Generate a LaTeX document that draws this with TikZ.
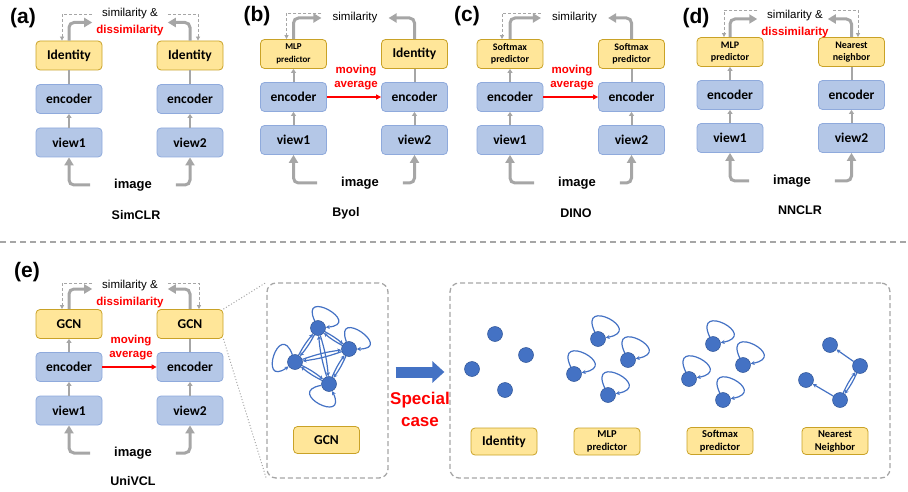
\documentclass[tikz,border=0pt]{standalone}
\usepackage{fontspec}
\setmainfont{Liberation Sans}
\newfontfamily\boxfont{Carlito}
\usetikzlibrary{arrows.meta,positioning}

\definecolor{encfill}{HTML}{B4C7E7}
\definecolor{encline}{HTML}{8FAADC}
\definecolor{prjfill}{HTML}{FFE699}
\definecolor{prjline}{HTML}{C9A227}
\definecolor{flowgray}{HTML}{A6A6A6}
\definecolor{nodeblue}{HTML}{4472C4}
\definecolor{nodeline}{HTML}{2F5597}

\begin{document}
\begin{tikzpicture}[x=1pt,y=1pt]
\tikzstyle{blk}=[draw=encline,fill=encfill,rounded corners=4pt,line width=0.8pt,minimum width=66pt,minimum height=29pt,inner sep=1pt,align=center,font=\boxfont\bfseries\fontsize{13.5}{15}\selectfont]
\tikzstyle{prj}=[blk,draw=prjline,fill=prjfill]
\tikzstyle{prjtiny}=[font=\boxfont\bfseries\fontsize{9}{12.5}\selectfont]
\tikzstyle{prjsmall}=[font=\boxfont\bfseries\fontsize{10}{12}\selectfont]
\tikzstyle{prjcase}=[minimum height=27pt,font=\boxfont\bfseries\fontsize{10.5}{13}\selectfont]
\tikzstyle{lbl}=[font=\bfseries\fontsize{21}{23}\selectfont]
\tikzstyle{img}=[font=\bfseries\fontsize{13}{15}\selectfont,inner xsep=24pt]
\tikzstyle{nm}=[font=\bfseries\fontsize{12.5}{14}\selectfont]
\tikzstyle{sim}=[font=\fontsize{11.5}{17}\selectfont,align=center,inner xsep=4pt]
\tikzstyle{ema}=[font=\bfseries\fontsize{11.5}{13.3}\selectfont,text=red,align=center]
\tikzstyle{flowline}=[draw=flowgray,line width=3pt,rounded corners=5pt,-{Triangle[length=8pt,width=9pt]}]
\tikzstyle{tapline}=[draw=flowgray,line width=2pt,-{Triangle[length=4pt,width=5pt]}]
\tikzstyle{plainline}=[draw=flowgray,line width=2pt]
\tikzstyle{dashline}=[draw=flowgray,line width=0.8pt,dash pattern=on 3pt off 2pt,-{Triangle[length=4pt,width=4pt]}]
\tikzstyle{emaline}=[draw=red,line width=1.4pt,-{Triangle[length=5pt,width=5pt]}]
\tikzstyle{panel}=[draw=flowgray,line width=1.3pt,dash pattern=on 5pt off 3pt,rounded corners=9pt]
\tikzstyle{zoomline}=[draw=flowgray,line width=1pt,dotted]
\tikzstyle{gnode}=[circle,fill=nodeblue,draw=nodeline,line width=0.5pt,minimum size=15pt,inner sep=0pt]
\tikzstyle{gedge}=[draw=nodeblue,line width=1.2pt,-{Stealth[length=4pt,width=4pt]}]

\useasboundingbox (0,0) rectangle (908,491);

% (a) SimCLR
\node[lbl] (aLbl) at (23,473) {(a)};
\node[prj] (aP1) at (69,435.5) {Identity};
\node[blk] (aE1) [below of=aP1,node distance=43.5pt] {encoder};
\node[blk] (aV1) [below of=aE1,node distance=43.5pt] {view1};
\node[prj] (aP2) [right of=aP1,node distance=121pt] {Identity};
\node[blk] (aE2) [right of=aE1,node distance=121pt] {encoder};
\node[blk] (aV2) [right of=aV1,node distance=121pt] {view2};
\node[img] (aImg) at (133,306) {image};
\node[nm] (aName) at (136,276) {SimCLR};
\node[sim] (aSim) at (130,468.5) {similarity \&\\\textcolor{red}{\bfseries dissimilarity}};

\draw[flowline] (aImg.west) -| (aV1.south);
\draw[flowline] (aImg.east) -| (aV2.south);
\draw[tapline] (aV1.north) -- (aE1.south);
\draw[tapline] (aV2.north) -- (aE2.south);
\draw[plainline] (aE1.north) -- (aP1.south);
\draw[plainline] (aE2.north) -- (aP2.south);
\draw[flowline] (aP1.north) |- (aSim.west);
\draw[flowline] (aP2.north) |- (aSim.east);
\draw[dashline] ([yshift=8pt]aSim.west) -| ([xshift=-7pt]aP1.north);
\draw[dashline] ([yshift=8pt]aSim.east) -| ([xshift=8pt]aP2.north);

% (b) Byol
\node[lbl] (bLbl) at (257,475) {(b)};
\node[prj,prjtiny] (bP1) at (293.5,437) {MLP\\predictor};
\node[blk] (bE1) [below of=bP1,node distance=43pt] {encoder};
\node[blk] (bV1) [below of=bE1,node distance=43pt] {view1};
\node[prj] (bP2) [right of=bP1,node distance=121pt] {Identity};
\node[blk] (bE2) [right of=bE1,node distance=121pt] {encoder};
\node[blk] (bV2) [right of=bV1,node distance=121pt] {view2};
\node[img] (bImg) at (360,308) {image};
\node[nm] (bName) at (346,278) {Byol};
\node[sim,inner xsep=11pt] (bSim) at (355,473) {similarity};
\node[ema] (bEma) at (356,413.5) {moving\\average};

\draw[flowline] (bImg.west) -| (bV1.south);
\draw[flowline] (bImg.east) -| (bV2.south);
\draw[tapline] (bV1.north) -- (bE1.south);
\draw[tapline] (bV2.north) -- (bE2.south);
\draw[tapline] (bE1.north) -- (bP1.south);
\draw[plainline] (bE2.north) -- (bP2.south);
\draw[flowline] (bP1.north) |- (bSim.west);
\draw[flowline] (bP2.north) |- (bSim.east);
\draw[dashline] ([yshift=5pt]bSim.west) -| ([xshift=-7pt]bP1.north);
\draw[emaline] (bE1.east) -- (bE2.west);

% (c) DINO
\node[lbl] (cLbl) at (467,475) {(c)};
\node[prj,prjsmall] (cP1) at (510,437) {Softmax\\predictor};
\node[blk] (cE1) [below of=cP1,node distance=43pt] {encoder};
\node[blk] (cV1) [below of=cE1,node distance=43pt] {view1};
\node[prj,prjsmall] (cP2) [right of=cP1,node distance=121.5pt] {Softmax\\predictor};
\node[blk] (cE2) [right of=cE1,node distance=121.5pt] {encoder};
\node[blk] (cV2) [right of=cV1,node distance=121.5pt] {view2};
\node[img] (cImg) at (577,308) {image};
\node[nm] (cName) at (576,278) {DINO};
\node[sim,inner xsep=11pt] (cSim) at (574.5,473) {similarity};
\node[ema] (cEma) at (572,413.5) {moving\\average};

\draw[flowline] (cImg.west) -| (cV1.south);
\draw[flowline] (cImg.east) -| (cV2.south);
\draw[tapline] (cV1.north) -- (cE1.south);
\draw[tapline] (cV2.north) -- (cE2.south);
\draw[tapline] (cE1.north) -- (cP1.south);
\draw[plainline] (cE2.north) -- (cP2.south);
\draw[flowline] (cP1.north) |- (cSim.west);
\draw[flowline] (cP2.north) |- (cSim.east);
\draw[dashline] ([yshift=5pt]cSim.west) -| ([xshift=-8pt]cP1.north);
\draw[emaline] (cE1.east) -- (cE2.west);

% (d) NNCLR
\node[lbl] (dLbl) at (696,473) {(d)};
\node[prj,prjsmall] (dP1) at (730,439) {MLP\\predictor};
\node[blk] (dE1) [below of=dP1,node distance=43pt] {encoder};
\node[blk] (dV1) [below of=dE1,node distance=43pt] {view1};
\node[prj,prjsmall] (dP2) [right of=dP1,node distance=121.5pt] {Nearest\\neighbor};
\node[blk] (dE2) [right of=dE1,node distance=121.5pt] {encoder};
\node[blk] (dV2) [right of=dV1,node distance=121.5pt] {view2};
\node[img] (dImg) at (792,310) {image};
\node[nm] (dName) at (800,281) {NNCLR};
\node[sim] (dSim) at (795,467) {similarity \&\\\textcolor{red}{\bfseries dissimilarity}};

\draw[flowline] (dImg.west) -| (dV1.south);
\draw[flowline] (dImg.east) -| (dV2.south);
\draw[tapline] (dV1.north) -- (dE1.south);
\draw[tapline] (dV2.north) -- (dE2.south);
\draw[tapline] (dE1.north) -- (dP1.south);
\draw[plainline] (dE2.north) -- (dP2.south);
\draw[flowline] (dP1.north) |- ([yshift=5pt]dSim.west);
\draw[flowline] (dP2.north) |- ([yshift=5pt,xshift=-5pt]dSim.east);
\draw[dashline] ([yshift=14pt]dSim.west) -| ([xshift=-6pt]dP1.north);
\draw[dashline] ([yshift=14pt]dSim.east) -| ([xshift=6.5pt]dP2.north);

% separator
\draw[flowgray,line width=1.3pt,dash pattern=on 6pt off 4pt] (0,249) -- (908,249);

% (e) UniVCL
\node[lbl] (eLbl) at (27,219) {(e)};
\node[prj] (eP1) at (69,167) {GCN};
\node[blk] (eE1) [below of=eP1,node distance=43pt] {encoder};
\node[blk] (eV1) [below of=eE1,node distance=43.5pt] {view1};
\node[prj] (eP2) [right of=eP1,node distance=121pt] {GCN};
\node[blk] (eE2) [right of=eE1,node distance=121pt] {encoder};
\node[blk] (eV2) [right of=eV1,node distance=121pt] {view2};
\node[img] (eImg) at (133,38) {image};
\node[nm] (eName) at (133,10) {UniVCL};
\node[sim] (eSim) at (130,196.5) {similarity \&\\\textcolor{red}{\bfseries dissimilarity}};
\node[ema] (eEma) at (131,143.5) {moving\\average};

\draw[flowline] (eImg.west) -| (eV1.south);
\draw[flowline] (eImg.east) -| (eV2.south);
\draw[tapline] (eV1.north) -- (eE1.south);
\draw[tapline] (eV2.north) -- (eE2.south);
\draw[tapline] (eE1.north) -- (eP1.south);
\draw[plainline] (eE2.north) -- (eP2.south);
\draw[flowline] (eP1.north) |- ([yshift=5.5pt]eSim.west);
\draw[flowline] (eP2.north) |- ([yshift=5.5pt]eSim.east);
\draw[dashline] ([yshift=11.5pt]eSim.west) -| ([xshift=-7pt]eP1.north);
\draw[dashline] ([yshift=11.5pt]eSim.east) -| ([xshift=9pt]eP2.north);
\draw[emaline] (eE1.east) -- (eE2.west);

% GCN zoom panel
\node[panel,minimum width=121pt,minimum height=195pt] (gcnPanel) at (327.5,110.5) {};
\node[prj,minimum height=27pt] (gcnBox) at (326.5,51) {GCN};
\draw[zoomline] (eP2.north east) -- (gcnPanel.north west);
\draw[zoomline] (eP2.south east) -- (gcnPanel.south west);

\node[gnode] (g1) at (318,163) {};
\node[gnode] (g2) at (349,142) {};
\node[gnode] (g3) at (295,129) {};
\node[gnode] (g4) at (329,107) {};
\foreach \u/\v in {g1/g2,g1/g3,g1/g4,g2/g3,g2/g4,g3/g4}{
  \draw[gedge] (\u) to[bend left=6] (\v);
  \draw[gedge] (\v) to[bend left=6] (\u);
}
\draw[gedge] (g1) to[out=115,in=5,min distance=38pt] (g1);
\draw[gedge] (g2) to[out=110,in=0,min distance=38pt] (g2);
\draw[gedge] (g3) to[out=110,in=215,min distance=38pt] (g3);
\draw[gedge] (g4) to[out=190,in=295,min distance=38pt] (g4);

% special cases panel
\node[panel,minimum width=440pt,minimum height=195pt] (casePanel) at (670,110.5) {};

% arrow to the special cases
\draw[nodeblue,line width=11pt,-{Triangle[length=12pt,width=21pt]}] ([xshift=7pt,yshift=8.5pt]gcnPanel.east) -- ([xshift=-5pt,yshift=8.5pt]casePanel.west);
\node[font=\bfseries\fontsize{17}{22}\selectfont,text=red,align=center] (special) at (420,82) {Special\\case};

\node[gnode] (i1) at (495,157) {};
\node[gnode] (i2) at (526,136) {};
\node[gnode] (i3) at (472,122) {};
\node[gnode] (i4) at (505,101) {};
\node[prj,minimum height=27pt] (idBox) at (504,49.5) {Identity};

\node[gnode] (m1) at (598,152) {};
\node[gnode] (m2) at (628,131) {};
\node[gnode] (m3) at (574,117) {};
\node[gnode] (m4) at (608,96) {};
\node[prj,prjcase] (mlpBox) at (607,49.5) {MLP\\predictor};

\node[gnode] (s1) at (713,147) {};
\node[gnode] (s2) at (743,126) {};
\node[gnode] (s3) at (689,112) {};
\node[gnode] (s4) at (723,91) {};
\node[prj,prjcase] (smBox) at (720,50) {Softmax\\predictor};

\foreach \k in {m1,m2,m3,m4,s1,s2,s3,s4}
  \draw[gedge] (\k) to[out=115,in=10,min distance=40pt] (\k);

\node[gnode] (n1) at (830,146) {};
\node[gnode] (n2) at (860,125) {};
\node[gnode] (n3) at (806,111) {};
\node[gnode] (n4) at (840,91) {};
\draw[gedge] (n2) -- (n1);
\draw[gedge] (n4) -- (n3);
\draw[gedge] (n4) to[bend left=6] (n2);
\draw[gedge] (n2) to[bend left=6] (n4);
\node[prj,prjcase] (nnBox) at (835,50) {Nearest\\Neighbor};
\end{tikzpicture}
\end{document}
